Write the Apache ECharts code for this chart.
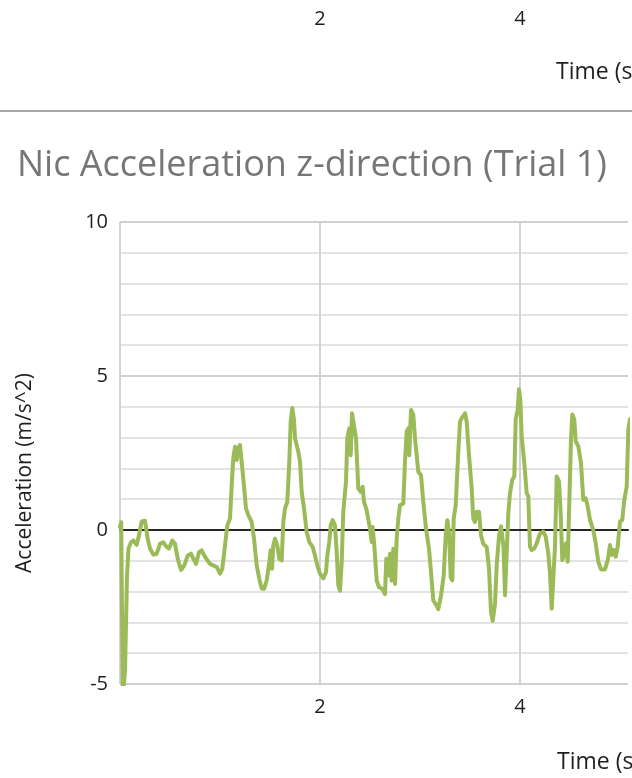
<!DOCTYPE html>
<html>
<head>
<meta charset="utf-8">
<script src="https://cdn.jsdelivr.net/npm/echarts@6/dist/echarts.min.js"></script>
<style>
html,body{margin:0;padding:0;background:#fff;overflow:hidden;}
#chart{width:632px;height:778px;}
</style>
</head>
<body>
<div id="chart"></div>
<script>
// ---- data ----
const chartTitle = "Nic Acceleration z-direction (Trial 1)";
const yAxisTitle = "Acceleration (m/s^2)";
const xAxisTitle = "Time (s)";
const xTickLabels = [2, 4];

const timeS = [
  0, 0.012, 0.028, 0.05, 0.07, 0.085, 0.11, 0.133, 0.167, 0.19, 0.217, 0.25, 0.277, 0.30,
  0.333, 0.367, 0.40, 0.433, 0.467, 0.49, 0.523, 0.55, 0.577, 0.61, 0.643, 0.677, 0.71,
  0.733, 0.76, 0.79, 0.817, 0.843, 0.877, 0.90, 0.933, 0.967, 1.0, 1.023, 1.05, 1.073,
  1.10, 1.117, 1.133, 1.15, 1.167, 1.183, 1.20,
  1.233, 1.26, 1.283, 1.317, 1.34, 1.367, 1.393, 1.417, 1.44, 1.467, 1.493, 1.507, 1.52,
  1.533, 1.55, 1.573, 1.593, 1.617, 1.633, 1.65, 1.673, 1.693, 1.707, 1.723, 1.74, 1.75,
  1.783, 1.80, 1.817, 1.84, 1.867, 1.893, 1.927, 1.95, 1.973, 2.0, 2.033, 2.06, 2.073,
  2.093, 2.107, 2.127, 2.15, 2.167, 2.183, 2.2, 2.217, 2.233, 2.26, 2.273, 2.293, 2.307,
  2.32, 2.34, 2.36, 2.383, 2.407, 2.427, 2.44, 2.467,
  2.50, 2.517, 2.527, 2.543, 2.567, 2.59, 2.623, 2.65, 2.663, 2.683, 2.70, 2.717, 2.733,
  2.75, 2.767, 2.783, 2.80, 2.833, 2.85, 2.867, 2.883, 2.893, 2.91, 2.933, 2.95, 2.983,
  3.01, 3.033, 3.06, 3.09, 3.11, 3.133, 3.157, 3.183, 3.21, 3.237, 3.257, 3.273, 3.29,
  3.307, 3.323, 3.337, 3.357, 3.383, 3.40, 3.417, 3.433, 3.45, 3.467, 3.49, 3.517, 3.533,
  3.55, 3.567, 3.59, 3.61, 3.633, 3.667, 3.69, 3.71, 3.727, 3.75,
  3.767, 3.79, 3.81, 3.822, 3.835, 3.85, 3.867, 3.883, 3.90, 3.923, 3.943, 3.957, 3.977,
  3.99, 4.003, 4.017, 4.043, 4.067, 4.083, 4.10, 4.117, 4.143, 4.167, 4.20, 4.233, 4.257,
  4.283, 4.30, 4.317, 4.337, 4.35, 4.367, 4.39, 4.407, 4.423, 4.44, 4.46, 4.477, 4.49,
  4.51, 4.523, 4.543, 4.557, 4.583, 4.61, 4.633, 4.657, 4.677, 4.70, 4.733, 4.757, 4.783,
  4.81, 4.85, 4.877, 4.90, 4.917, 4.937, 4.957, 4.977, 5.0, 5.023, 5.043, 5.067, 5.083, 5.10
];

const accelZ = [
  0.1, 0.25, -5.4, -4.6, -1.5, -0.6, -0.4, -0.34, -0.48, -0.17, 0.28, 0.3, -0.28, -0.6,
  -0.8, -0.77, -0.45, -0.4, -0.55, -0.6, -0.34, -0.45, -0.93, -1.3, -1.15, -0.83, -0.77,
  -0.93, -1.1, -0.72, -0.66, -0.83, -1.0, -1.1, -1.15, -1.2, -1.42, -1.26, -0.5, 0.15,
  0.37, 1.46, 2.33, 2.7, 2.27, 2.65, 2.76,
  1.67, 0.7, 0.48, 0.26, -0.28, -1.15, -1.59, -1.9, -1.91, -1.64, -1.04, -0.66, -1.26,
  -0.5, -0.28, -0.5, -0.93, -0.99, 0.26, 0.7, 0.91, 2.22, 3.52, 3.96, 3.58, 2.98,
  2.54, 2.22, 1.24, 0.7, -0.07, -0.39, -0.55, -0.83, -1.15, -1.42, -1.57, -1.37, -0.83,
  -0.39, 0.15, 0.32, 0.15, -0.72, -1.8, -1.97, -1.04, 0.59, 1.57, 2.98, 3.3, 2.43,
  3.79, 3.74, 2.98, 1.35, 1.24, 1.4, 0.91, 0.64,
  0.04, -0.39, 0.1, -0.5, -1.64, -1.86, -1.91, -2.08, -0.93, -1.48, -0.77, -1.64, -0.61,
  -1.75, -0.28, 0.37, 0.8, 0.86, 2.22, 3.2, 3.3, 2.43, 3.9, 3.74, 2.98, 1.89,
  1.78, 0.91, 0.04, -0.61, -1.37, -2.29, -2.4, -2.57, -2.13, -1.48, -0.17, 0.32, -0.07,
  -1.53, -1.64, 0.37, 0.8, 2.54, 3.52, 3.63, 3.63, 3.79, 3.52, 2.43, 1.35, 0.37,
  0.26, 0.59, 0.59, -0.17, -0.45, -0.55, -1.26, -2.67, -2.95, -2.4,
  -1.15, -0.2, 0.12, 0.16, -0.54, -2.12, -2.07, 0.54, 1.2, 1.63, 1.74, 3.59, 3.91,
  4.57, 4.24, 3.04, 2.17, 1.2, 1.09, -0.54, -0.65, -0.6, -0.43, -0.11, -0.05, -0.22,
  -0.76, -1.41, -2.55, -2.6, -0.54, 1.74, 1.58, 0.54, -0.98, -0.81, -0.43, -1.03, 0.54,
  2.93, 3.75, 3.59, 2.88, 2.72, 2.17, 0.98, 1.03, 0.76, 0.33, 0.0, -0.43, -1.03,
  -1.28, -1.28, -0.98, -0.49, -0.81, -0.65, -0.87, -0.54, 0.27, 0.33, 0.98, 1.41, 3.26, 3.6
];

const yMin = -5, yMax = 10, yStep = 5;
const xMin = 0, xMax = 5.08, xStep = 2;

// ---- chart ----
const FONT = '"Open Sans", "Noto Sans", sans-serif';
const chart = echarts.init(document.getElementById('chart'), null, {renderer: 'canvas'});
const points = timeS.map((t, i) => [t, accelZ[i]]);

const tickFmt = v => (xTickLabels.indexOf(Math.round(v * 1000) / 1000) >= 0 ? String(v) : '');

chart.setOption({
  animation: false,
  backgroundColor: '#ffffff',
  title: {
    text: chartTitle,
    left: 12,
    top: 139,
    textStyle: {fontFamily: FONT, fontSize: 36, fontWeight: 'normal', color: '#767676', lineHeight: 44}
  },
  grid: [
    {left: 120, right: 4, top: 222, bottom: 94, containLabel: false},
    {left: 120, right: 4, top: -20, height: 20, containLabel: false}
  ],
  xAxis: [
    {
      type: 'value', gridIndex: 0, min: xMin, max: xMax, interval: xStep,
      axisLine: {show: false, onZero: false},
      axisTick: {show: false},
      axisLabel: {show: true, formatter: tickFmt, showMinLabel: false, showMaxLabel: false,
        margin: 13, fontFamily: FONT, fontSize: 20, color: '#1e1e1e'},
      splitLine: {show: true, showMinLine: true, showMaxLine: false,
        lineStyle: {color: '#d2d2d2', width: 2}}
    },
    {
      // horizontal axis line crossing at y = 0
      type: 'value', gridIndex: 0, min: xMin, max: xMax, interval: xStep, position: 'bottom',
      axisLine: {show: true, onZero: true, lineStyle: {color: '#262626', width: 2}},
      axisTick: {show: false}, axisLabel: {show: false}, splitLine: {show: false}
    },
    {
      // x-axis tick labels of the chart above (cut off at top of the picture)
      type: 'value', gridIndex: 1, min: xMin, max: xMax, interval: xStep,
      axisLine: {show: false}, axisTick: {show: false}, splitLine: {show: false},
      axisLabel: {show: true, formatter: tickFmt, showMinLabel: false, showMaxLabel: false,
        margin: 4, fontFamily: FONT, fontSize: 20, color: '#1e1e1e'}
    }
  ],
  yAxis: [
    {
      type: 'value', gridIndex: 0, min: yMin, max: yMax, interval: yStep,
      axisLine: {show: false}, axisTick: {show: false},
      axisLabel: {margin: 12, fontFamily: FONT, fontSize: 20, color: '#1e1e1e'},
      splitLine: {show: true, lineStyle: {color: '#d0d0d0', width: 2}},
      minorTick: {show: false, splitNumber: 5},
      minorSplitLine: {show: true, lineStyle: {color: '#e3e3e3', width: 2}}
    },
    {
      type: 'value', gridIndex: 1, min: 0, max: 1, show: false
    }
  ],
  graphic: [
    {
      type: 'text', left: 556, top: 61,
      style: {text: xAxisTitle, font: '23px ' + FONT, fill: '#1e1e1e'}
    },
    {
      type: 'line', shape: {x1: 0, y1: 111, x2: 632, y2: 111},
      style: {stroke: '#a6a6a6', lineWidth: 2}
    },
    {
      type: 'text', left: 557, top: 751,
      style: {text: xAxisTitle, font: '23px ' + FONT, fill: '#1e1e1e'}
    },
    {
      type: 'text', x: 25, y: 473, rotation: Math.PI / 2,
      style: {text: yAxisTitle, font: '21px ' + FONT, fill: '#1e1e1e',
        align: 'center', verticalAlign: 'middle'}
    }
  ],
  series: [
    {
      type: 'line', xAxisIndex: 0, yAxisIndex: 0,
      data: points,
      showSymbol: false, symbol: 'none', smooth: false, clip: true,
      lineStyle: {color: '#9bbb59', width: 4, join: 'round', cap: 'round'},
      z: 3
    }
  ]
});
</script>
</body>
</html>
